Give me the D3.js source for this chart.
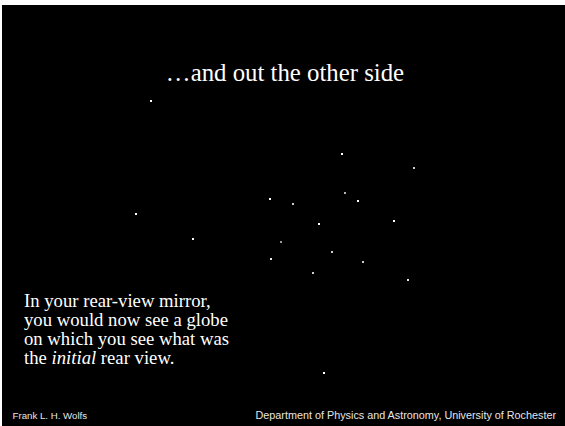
<!DOCTYPE html>
<html>
<head>
<meta charset="utf-8">
<script src="https://cdn.jsdelivr.net/npm/d3@7"></script>
<style>
  html, body { margin: 0; padding: 0; background: #fff; }
  svg { display: block; }
</style>
</head>
<body>
<svg id="mainsvg"></svg>
<script>
// star field, in slide units (0..1000 wide, 0..750 high)
const starX = [268, 606, 733, 477, 519, 611, 633, 564, 698, 497, 480, 588, 642, 554, 722, 240, 342, 574]
const starY = [177, 271, 295, 350, 360, 339, 354, 394, 389, 426, 456, 444, 461, 480, 493, 377, 421, 656]
const starGlow = [1, 1, 0.8, 1, 0.8, 0.7, 1, 1, 1, 0.6, 0.9, 0.8, 0.8, 0.8, 0.9, 1, 1, 1]

const title = '\u2026and out the other side'
const bodyLines = [
  [['In your rear-view mirror,', 'normal']],
  [['you would now see a globe', 'normal']],
  [['on which you see what was', 'normal']],
  [['the ', 'normal'], ['initial', 'italic'], [' rear view.', 'normal']]
]
const footerLeft = 'Frank L. H. Wolfs'
const footerRight = 'Department of Physics and Astronomy, University of Rochester'

let width = 565
let height = 426

const svg = d3.select('#mainsvg')
    .attr('width', width)
    .attr('height', height)

// black slide
svg.append('rect')
.attr('x', 2)
.attr('y', 5)
.attr('width', width - 2)
.attr('height', height - 5)
.attr('fill', '#000')

const x = d3.scaleLinear().domain([0, 1000]).range([0, width])
const y = d3.scaleLinear().domain([0, 750]).range([0, height])

svg.append('g').selectAll('rect')
.data(starX.map((d, i) => ({x: d, y: starY[i], g: starGlow[i]})))
.join('rect')
.attr('x', d => Math.round(x(d.x)) - 1)
.attr('y', d => Math.round(y(d.y)) - 1)
.attr('width', 2)
.attr('height', 2)
.attr('fill', '#fff')
.attr('opacity', d => d.g)

svg.append('text')
.attr('x', 285)
.attr('y', 81)
.attr('text-anchor', 'middle')
.attr('font-family', '"Liberation Serif", "Times New Roman", serif')
.attr('font-size', 24.8)
.attr('fill', '#fff')
.text(title)

const body = svg.append('text')
.attr('font-family', '"Liberation Serif", "Times New Roman", serif')
.attr('font-size', 18.7)
.attr('fill', '#fff')

bodyLines.forEach((line, i) => {
  line.forEach((part, j) => {
    const t = body.append('tspan')
    .attr('font-style', part[1])
    .text(part[0])
    if (j === 0) t.attr('x', 24).attr('y', 307 + i * 19.1)
  })
})

svg.append('text')
.attr('x', 12.5)
.attr('y', 418.5)
.attr('font-family', '"Liberation Sans", Arial, sans-serif')
.attr('font-size', 9.7)
.attr('fill', '#e6e6e6')
.text(footerLeft)

svg.append('text')
.attr('x', 556)
.attr('y', 418.5)
.attr('text-anchor', 'end')
.attr('font-family', '"Liberation Sans", Arial, sans-serif')
.attr('font-size', 10.8)
.attr('fill', '#e6e6e6')
.text(footerRight)
</script>
</body>
</html>
